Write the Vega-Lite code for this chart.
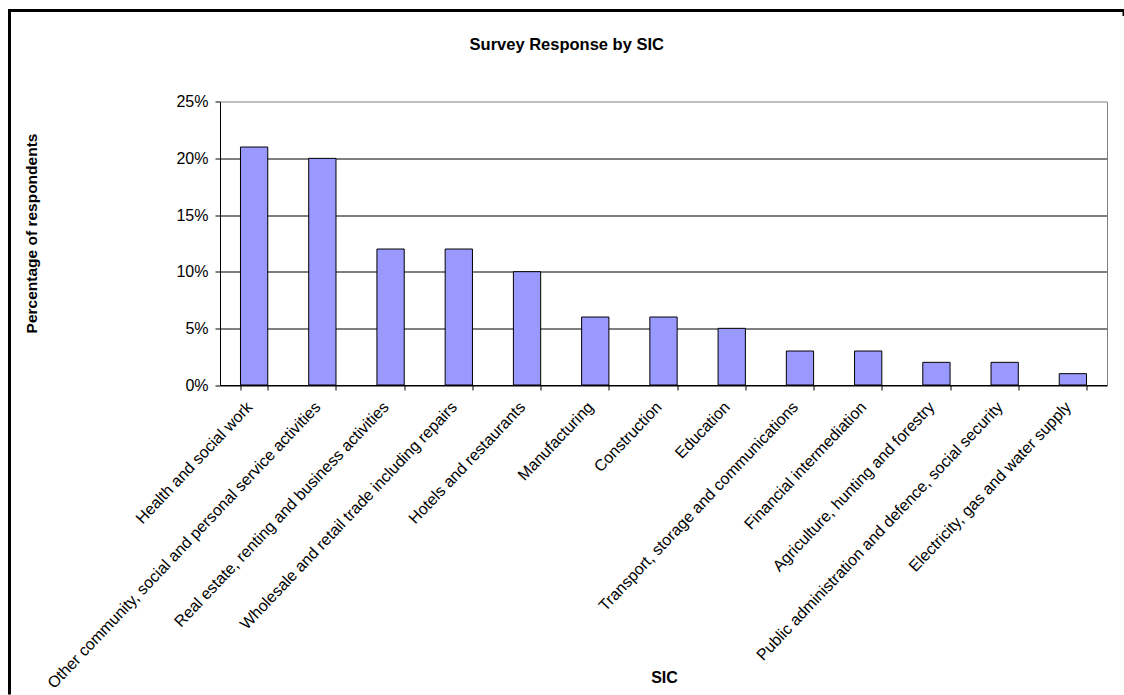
{
  "$schema": "https://vega.github.io/schema/vega-lite/v6.json",
  "autosize": {"type": "none"},
  "padding": {"left": 9.5, "top": 10.5, "right": 0, "bottom": 0},
  "width": 1114.5,
  "height": 684.5,
  "background": "white",
  "title": {
    "text": "Survey Response by SIC",
    "fontSize": 16.5,
    "fontWeight": "bold",
    "font": "Liberation Sans",
    "color": "black",
    "anchor": "middle",
    "offset": -43
  },
  "data": {
    "values": [
      {"sic": "Health and social work", "share": 0.21},
      {"sic": "Other community, social and personal service activities", "share": 0.20},
      {"sic": "Real estate, renting and business activities", "share": 0.12},
      {"sic": "Wholesale and retail trade including repairs", "share": 0.12},
      {"sic": "Hotels and restaurants", "share": 0.10},
      {"sic": "Manufacturing", "share": 0.06},
      {"sic": "Construction", "share": 0.06},
      {"sic": "Education", "share": 0.05},
      {"sic": "Transport, storage and communications", "share": 0.03},
      {"sic": "Financial intermediation", "share": 0.03},
      {"sic": "Agriculture, hunting and forestry", "share": 0.02},
      {"sic": "Public administration and defence, social security", "share": 0.02},
      {"sic": "Electricity, gas and water supply", "share": 0.01}
    ]
  },
  "layer": [
    {
      "mark": {"type": "bar", "fill": "#9999FF", "stroke": "black", "strokeWidth": 1},
      "encoding": {
        "x": {
          "field": "sic",
          "type": "nominal",
          "sort": null,
          "scale": {"range": [210.5, 1097.5], "paddingInner": 0.6, "paddingOuter": 0.3},
          "axis": {
            "title": "SIC",
            "offset": -310,
            "labelAngle": -46.5,
            "labelFontSize": 16,
            "labelColor": "black",
            "labelPadding": 14,
            "labelOffset": -5,
            "labelLimit": 0,
            "labelOverlap": false,
            "tickBand": "extent",
            "tickSize": 5,
            "tickColor": "black",
            "domainColor": "black",
            "grid": false,
            "titleFontSize": 16,
            "titleFontWeight": "bold",
            "titleColor": "black",
            "titleX": 654.5,
            "titleY": 292,
            "titleAlign": "center",
            "titleBaseline": "middle"
          }
        },
        "y": {
          "field": "share",
          "type": "quantitative",
          "scale": {"domain": [0, 0.25], "range": [374.5, 91.2], "nice": false},
          "axis": {
            "title": "Percentage of respondents",
            "format": ".0%",
            "values": [0, 0.05, 0.1, 0.15, 0.2, 0.25],
            "offset": -210.5,
            "domainColor": "black",
            "tickColor": "black",
            "tickSize": 5,
            "labelFontSize": 16,
            "labelColor": "black",
            "labelPadding": 7,
            "grid": true,
            "gridColor": {"condition": {"test": "datum.value >= 0.25", "value": "#808080"}, "value": "black"},
            "gridOpacity": 1,
            "titleFontSize": 15.5,
            "titleFontWeight": "bold",
            "titleColor": "black",
            "titleX": -188.5,
            "titleY": 222.5,
            "titleAngle": 270,
            "titleAlign": "center",
            "titleBaseline": "middle"
          }
        }
      }
    },
    {
      "mark": {"type": "bar", "opacity": 0},
      "encoding": {
        "x": {"field": "sic", "type": "nominal", "sort": null},
        "y": {
          "field": "share",
          "type": "quantitative",
          "axis": {
            "orient": "right",
            "offset": -17,
            "labels": false,
            "ticks": false,
            "grid": false,
            "title": null,
            "domainColor": "#808080"
          }
        }
      }
    }
  ],
  "resolve": {"axis": {"y": "independent"}},
  "view": {"stroke": "black", "strokeWidth": 3, "strokeDash": [1120, 1794, 700]},
  "config": {
    "font": "Liberation Sans",
    "axis": {"labelFont": "Liberation Sans", "titleFont": "Liberation Sans"}
  }
}
